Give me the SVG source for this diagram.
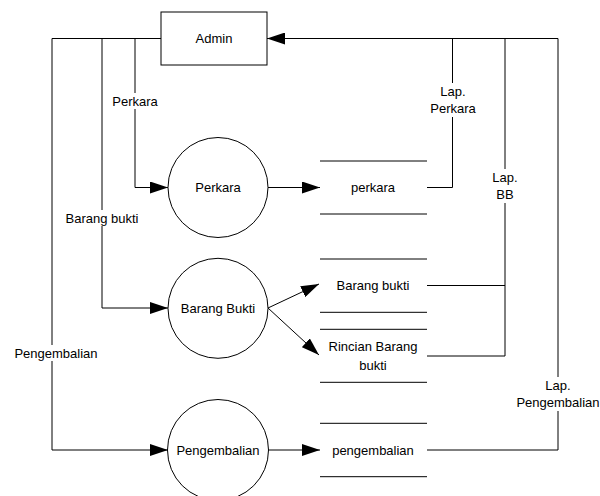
<svg xmlns="http://www.w3.org/2000/svg" width="600" height="496" viewBox="0 0 600 496">
<style>
.l{fill:none;stroke:#000;stroke-width:1}
.n{fill:#fff;stroke:#000;stroke-width:1}
.t{font-family:"Liberation Sans",Arial,sans-serif;font-size:13px;fill:#000;text-anchor:middle;dominant-baseline:central}
.bg{fill:#fff}
</style>
<defs>
<marker id="a" markerWidth="18" markerHeight="12" refX="18" refY="6" orient="auto" markerUnits="userSpaceOnUse">
<path d="M0,0 L18,6 L0,12 Z" fill="#000"/>
</marker>
</defs>
<g id="connectors">
<path class="l" d="M161,38.5 H52 V450 H168" marker-end="url(#a)"/>
<path class="l" d="M102,38.5 V308 H168" marker-end="url(#a)"/>
<path class="l" d="M135,38.5 V187.5 H168" marker-end="url(#a)"/>
<path class="l" d="M268,187.5 H320" marker-end="url(#a)"/>
<path class="l" d="M268,308 L319,284" marker-end="url(#a)"/>
<path class="l" d="M268,308 L319,355" marker-end="url(#a)"/>
<path class="l" d="M269,450 H320" marker-end="url(#a)"/>
<path class="l" d="M427,187.5 H452.5 V38.5"/>
<path class="l" d="M427,285.5 H505"/>
<path class="l" d="M427,356 H505 V38.5"/>
<path class="l" d="M427,450 H558 V38.5 H267" marker-end="url(#a)"/>
<rect class="bg" x="108" y="93" width="54" height="16"/>
<text class="t" x="135" y="101">Perkara</text>
<rect class="bg" x="62" y="210" width="80" height="16"/>
<text class="t" x="102" y="218">Barang bukti</text>
<rect class="bg" x="10" y="345" width="92" height="16"/>
<text class="t" x="56" y="353">Pengembalian</text>
<rect class="bg" x="426" y="83" width="54" height="34"/>
<text class="t" x="453" y="91">Lap.</text>
<text class="t" x="453" y="108">Perkara</text>
<rect class="bg" x="490" y="169" width="30" height="34"/>
<text class="t" x="505" y="177">Lap.</text>
<text class="t" x="505" y="194">BB</text>
<rect class="bg" x="512" y="377" width="90" height="34"/>
<text class="t" x="558" y="385">Lap.</text>
<text class="t" x="558" y="402.5">Pengembalian</text>
</g>
<g id="admin">
<rect class="n" x="161" y="12" width="106" height="53"/>
<text class="t" x="214" y="38.5">Admin</text>
</g>
<g id="p-perkara">
<circle class="n" cx="218" cy="187.5" r="50"/>
<text class="t" x="218" y="187.5">Perkara</text>
</g>
<g id="p-barang">
<circle class="n" cx="218" cy="308.3" r="50"/>
<text class="t" x="218" y="308.3">Barang Bukti</text>
</g>
<g id="p-pengembalian">
<circle class="n" cx="218" cy="450" r="50.5"/>
<text class="t" x="218" y="450">Pengembalian</text>
</g>
<g id="ds-perkara">
<path class="l" d="M320,161 H427 M320,214 H427"/>
<text class="t" x="373" y="187.5">perkara</text>
</g>
<g id="ds-barang">
<path class="l" d="M320,259 H427 M320,312.3 H427"/>
<text class="t" x="373" y="285.5">Barang bukti</text>
</g>
<g id="ds-rincian">
<path class="l" d="M320,329.3 H427 M320,382.3 H427"/>
<text class="t" x="373" y="346.5">Rincian Barang</text>
<text class="t" x="373" y="365">bukti</text>
</g>
<g id="ds-pengembalian">
<path class="l" d="M320,423.3 H427 M320,476.7 H427"/>
<text class="t" x="373" y="450">pengembalian</text>
</g>
</svg>
